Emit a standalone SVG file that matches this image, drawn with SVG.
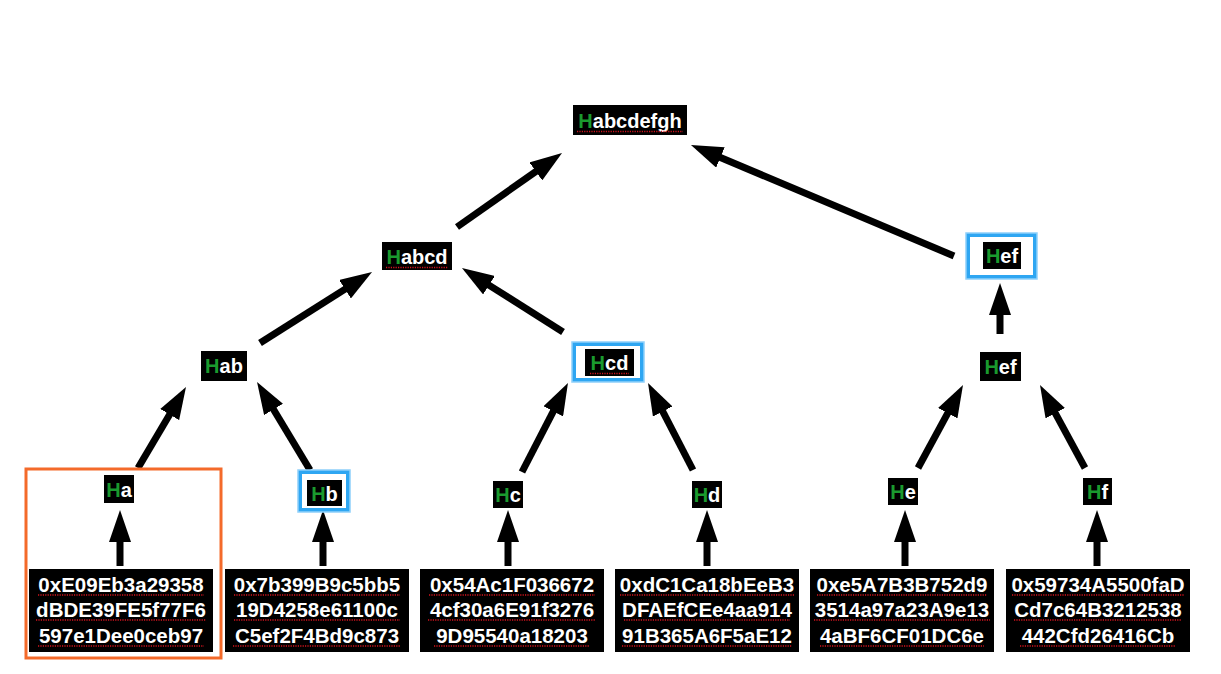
<svg xmlns="http://www.w3.org/2000/svg" width="1221" height="674" viewBox="0 0 1221 674">
  <style>
    .box { fill: #000; }
    .lbl { font-family: "Liberation Sans", Arial, sans-serif; font-weight: bold; font-size: 20px; fill: #fff; text-anchor: middle; }
    .g { fill: #1a9a2e; }
    .hash { font-family: "Liberation Sans", Arial, sans-serif; font-weight: bold; font-size: 20.5px; fill: #fff; text-anchor: middle; }
    .sq { stroke: #d2141e; stroke-width: 1.6; stroke-dasharray: 1.2 1.2; fill: none; }
    .edge { stroke: #000; stroke-width: 7; fill: none; marker-end: url(#head); }
    .blue { fill: none; stroke: #2ea6f2; stroke-width: 4; }
    .blue2 { fill: none; stroke: #8fd0fa; stroke-width: 1.5; }
    .orange { fill: none; stroke: #f46a2a; stroke-width: 3; }
  </style>
  <defs>
    <marker id="head" viewBox="0 -11 32 22" markerWidth="32" markerHeight="22" refX="2" refY="0" orient="auto" markerUnits="userSpaceOnUse">
      <path d="M0,-11 L32,0 L0,11 z" fill="#000"/>
    </marker>
  </defs>
  <rect width="1221" height="674" fill="#fff"/>

  <!-- connectors -->
  <g id="connectors">
    <line class="edge" x1="120" y1="566" x2="120" y2="540"/>
    <line class="edge" x1="323" y1="566" x2="323" y2="540"/>
    <line class="edge" x1="508" y1="566" x2="508" y2="540"/>
    <line class="edge" x1="707" y1="566" x2="707" y2="540"/>
    <line class="edge" x1="905" y1="566" x2="905" y2="540"/>
    <line class="edge" x1="1097" y1="566" x2="1097" y2="540"/>
    <line class="edge" x1="138" y1="468" x2="170.7" y2="412.8"/>
    <line class="edge" x1="310" y1="470" x2="272.5" y2="407.7"/>
    <line class="edge" x1="522" y1="472" x2="554.2" y2="409.6"/>
    <line class="edge" x1="693" y1="470" x2="661.8" y2="409.7"/>
    <line class="edge" x1="918" y1="468" x2="948.7" y2="411.4"/>
    <line class="edge" x1="1085" y1="468" x2="1054.3" y2="411.4"/>
    <line class="edge" x1="1000" y1="334" x2="1000" y2="313"/>
    <line class="edge" x1="260" y1="343" x2="346.7" y2="288.1"/>
    <line class="edge" x1="563" y1="332" x2="487.3" y2="284.1"/>
    <line class="edge" x1="457" y1="227" x2="537.5" y2="170.3"/>
    <line class="edge" x1="954" y1="256" x2="718.6" y2="156.7"/>
  </g>

  <!-- root -->
  <g id="n-habcdefgh">
    <rect class="box" x="573" y="105" width="114" height="30"/>
    <text class="lbl" x="630" y="128"><tspan class="g">H</tspan>abcdefgh</text>
    <line class="sq" x1="577" y1="131.5" x2="683" y2="131.5"/>
  </g>

  <!-- level 1 -->
  <g id="n-habcd">
    <rect class="box" x="382" y="242" width="70" height="28"/>
    <text class="lbl" x="417" y="264"><tspan class="g">H</tspan>abcd</text>
    <line class="sq" x1="386" y1="267.5" x2="448" y2="267.5"/>
  </g>
  <g id="n-hef-top">
    <rect class="blue" x="968" y="235" width="67" height="42"/>
    <rect class="blue2" x="966" y="233" width="71" height="46"/>
    <rect class="box" x="983" y="242" width="38" height="27"/>
    <text class="lbl" x="1002" y="263"><tspan class="g">H</tspan>ef</text>
  </g>

  <!-- level 2 -->
  <g id="n-hab">
    <rect class="box" x="201" y="351" width="46" height="30"/>
    <text class="lbl" x="224" y="373"><tspan class="g">H</tspan>ab</text>
  </g>
  <g id="n-hcd">
    <rect class="blue" x="574" y="344" width="68" height="36"/>
    <rect class="blue2" x="572" y="342" width="72" height="40"/>
    <rect class="box" x="585" y="349" width="49" height="27"/>
    <text class="lbl" x="609.5" y="370"><tspan class="g">H</tspan>cd</text>
    <line class="sq" x1="590" y1="373.5" x2="629" y2="373.5"/>
  </g>
  <g id="n-hef">
    <rect class="box" x="980" y="352" width="41" height="29"/>
    <text class="lbl" x="1000.5" y="374"><tspan class="g">H</tspan>ef</text>
  </g>

  <!-- leaves -->
  <g id="n-ha">
    <rect class="orange" x="26" y="469" width="195" height="189"/>
    <rect class="box" x="104" y="475" width="30" height="28"/>
    <text class="lbl" x="119" y="497"><tspan class="g">H</tspan>a</text>
  </g>
  <g id="n-hb">
    <rect class="blue" x="300" y="472" width="48" height="38"/>
    <rect class="blue2" x="298" y="470" width="52" height="42"/>
    <rect class="box" x="307" y="480" width="35" height="26"/>
    <text class="lbl" x="324.5" y="501"><tspan class="g">H</tspan>b</text>
  </g>
  <g id="n-hc">
    <rect class="box" x="493" y="481" width="30" height="27"/>
    <text class="lbl" x="508" y="502"><tspan class="g">H</tspan>c</text>
  </g>
  <g id="n-hd">
    <rect class="box" x="692" y="481" width="30" height="27"/>
    <text class="lbl" x="707" y="502"><tspan class="g">H</tspan>d</text>
  </g>
  <g id="n-he">
    <rect class="box" x="888" y="478" width="30" height="27"/>
    <text class="lbl" x="903" y="499"><tspan class="g">H</tspan>e</text>
  </g>
  <g id="n-hf">
    <rect class="box" x="1083" y="478" width="29" height="27"/>
    <text class="lbl" x="1097.5" y="499"><tspan class="g">H</tspan>f</text>
  </g>

  <!-- addresses -->
  <g id="addr-a">
    <rect class="box" x="29" y="569" width="184" height="83"/>
    <text class="hash" x="121" y="592">0xE09Eb3a29358</text>
    <text class="hash" x="121" y="617">dBDE39FE5f77F6</text>
    <text class="hash" x="121" y="643">597e1Dee0ceb97</text>
    <path class="sq" d="M38,595 H204 M36,620 H206 M38,646 H204"/>
  </g>
  <g id="addr-b">
    <rect class="box" x="225" y="569" width="184" height="83"/>
    <text class="hash" x="317" y="592">0x7b399B9c5bb5</text>
    <text class="hash" x="317" y="617">19D4258e61100c</text>
    <text class="hash" x="317" y="643">C5ef2F4Bd9c873</text>
    <path class="sq" d="M234,595 H400 M234,620 H400 M233,646 H401"/>
  </g>
  <g id="addr-c">
    <rect class="box" x="420" y="569" width="184" height="83"/>
    <text class="hash" x="512" y="592">0x54Ac1F036672</text>
    <text class="hash" x="512" y="617">4cf30a6E91f3276</text>
    <text class="hash" x="512" y="643">9D95540a18203</text>
    <path class="sq" d="M429,595 H595 M428,620 H596 M434,646 H590"/>
  </g>
  <g id="addr-d">
    <rect class="box" x="615" y="569" width="184" height="83"/>
    <text class="hash" x="707" y="592">0xdC1Ca18bEeB3</text>
    <text class="hash" x="707" y="617">DFAEfCEe4aa914</text>
    <text class="hash" x="707" y="643">91B365A6F5aE12</text>
    <path class="sq" d="M620,595 H794 M624,620 H790 M622,646 H792"/>
  </g>
  <g id="addr-e">
    <rect class="box" x="810" y="569" width="184" height="83"/>
    <text class="hash" x="902" y="592">0xe5A7B3B752d9</text>
    <text class="hash" x="902" y="617">3514a97a23A9e13</text>
    <text class="hash" x="902" y="643">4aBF6CF01DC6e</text>
    <path class="sq" d="M817,595 H987 M814,620 H990 M820,646 H984"/>
  </g>
  <g id="addr-f">
    <rect class="box" x="1006" y="569" width="184" height="83"/>
    <text class="hash" x="1098" y="592">0x59734A5500faD</text>
    <text class="hash" x="1098" y="617">Cd7c64B3212538</text>
    <text class="hash" x="1098" y="643">442Cfd26416Cb</text>
    <path class="sq" d="M1012,595 H1184 M1014,620 H1182 M1020,646 H1176"/>
  </g>
</svg>
